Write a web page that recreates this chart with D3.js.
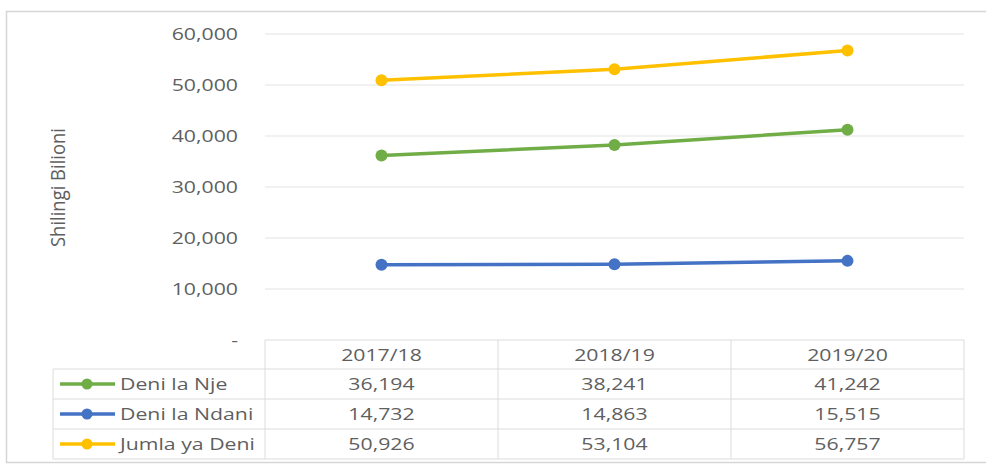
<!DOCTYPE html>
<html><head><meta charset="utf-8">
<script src="https://cdn.jsdelivr.net/npm/d3@7/dist/d3.min.js"></script>
<style>body{margin:0;background:#fff;} svg{display:block;} text{font-family:"Open Sans",sans-serif;fill:#5f5f5f;}</style>
</head><body>
<svg id="c" width="986" height="465"></svg>
<script>
const categories = ["2017/18", "2018/19", "2019/20"];
const seriesNames = ["Deni la Nje", "Deni la Ndani", "Jumla ya Deni"];
const deniLaNje = [36194, 38241, 41242];
const deniLaNdani = [14732, 14863, 15515];
const jumlaYaDeni = [50926, 53104, 56757];
const yTicks = [0, 10000, 20000, 30000, 40000, 50000, 60000];
const yTitle = "Shilingi Bilioni";
const colors = ["#70AD47", "#4472C4", "#FFC000"];

const series = [deniLaNje, deniLaNdani, jumlaYaDeni].map((v, i) => ({name: seriesNames[i], values: v, color: colors[i]}));

const svg = d3.select("#c");
const SX = 1.33;
const pLeft = 265, pRight = 964, pTop = 34, pBottom = 340;
const rowH = 30, legendLeft = 53;

const x = d3.scaleBand().domain(categories).range([pLeft, pRight]);
const y = d3.scaleLinear().domain([0, 60000]).range([pBottom, pTop]);

// outer frame
svg.append("rect").attr("x", 6.5).attr("y", 11.5).attr("width", 1000).attr("height", 451)
  .attr("fill", "none").attr("stroke", "#d6d6d6").attr("stroke-width", 1.5);

function txt(g, xx, yy, s, anchor, size) {
  return g.append("text").attr("transform", `translate(${xx},${yy}) scale(${SX},1)`)
    .attr("text-anchor", anchor).attr("dy", "0.35em").style("font-size", (size || 16) + "px").text(s);
}

// gridlines
const fmt = d3.format(",");
const grid = svg.append("g");
yTicks.forEach(t => {
  if (t > 0) grid.append("line").attr("x1", pLeft).attr("x2", pRight).attr("y1", y(t)).attr("y2", y(t))
    .attr("stroke", "#e3e3e3").attr("stroke-width", 1);
  txt(grid, 238, y(t), t === 0 ? "-" : fmt(t), "end", 16);
});

// y title
svg.append("text").attr("transform", `translate(58,${(128+247)/2}) rotate(-90) scale(1,1.3)`)
  .attr("text-anchor", "middle").attr("dy", "0.35em").style("font-size", "15px")
  .attr("textLength", 119).attr("lengthAdjust", "spacingAndGlyphs").text(yTitle);

// table
const tb = svg.append("g");
const lineC = "#dcdcdc";
tb.append("line").attr("x1", pLeft).attr("x2", pRight).attr("y1", pBottom).attr("y2", pBottom).attr("stroke", lineC);
for (let r = 1; r <= series.length + 1; r++) {
  const yy = pBottom + r * rowH - 1;
  tb.append("line").attr("x1", legendLeft).attr("x2", pRight).attr("y1", yy).attr("y2", yy).attr("stroke", lineC);
}
const tableBottom = pBottom + (series.length + 1) * rowH - 1;
tb.append("line").attr("x1", legendLeft).attr("x2", legendLeft).attr("y1", pBottom + rowH - 1).attr("y2", tableBottom).attr("stroke", lineC);
[pLeft].concat(categories.map(c => x(c) + x.bandwidth())).forEach(xx => {
  tb.append("line").attr("x1", xx).attr("x2", xx).attr("y1", pBottom).attr("y2", tableBottom).attr("stroke", lineC);
});
categories.forEach(c => txt(tb, x(c) + x.bandwidth() / 2, pBottom + rowH / 2, c, "middle", 16));
series.forEach((s, i) => {
  const cy = pBottom + (i + 1) * rowH + rowH / 2 - 1;
  s.values.forEach((v, j) => txt(tb, x(categories[j]) + x.bandwidth() / 2, cy, fmt(v), "middle", 16));
  tb.append("line").attr("x1", 60).attr("x2", 115).attr("y1", cy).attr("y2", cy).attr("stroke", s.color).attr("stroke-width", 3.5);
  tb.append("circle").attr("cx", 87).attr("cy", cy).attr("r", 5.5).attr("fill", s.color);
  txt(tb, 120, cy, s.name, "start", 16);
});

// lines
const line = d3.line().x((d, j) => x(categories[j]) + x.bandwidth() / 2).y(d => y(d));
series.forEach(s => {
  svg.append("path").attr("d", line(s.values)).attr("fill", "none").attr("stroke", s.color).attr("stroke-width", 3.5);
  svg.selectAll(null).data(s.values).enter().append("circle")
    .attr("cx", (d, j) => x(categories[j]) + x.bandwidth() / 2).attr("cy", d => y(d)).attr("r", 6).attr("fill", s.color);
});
</script>
</body></html>
